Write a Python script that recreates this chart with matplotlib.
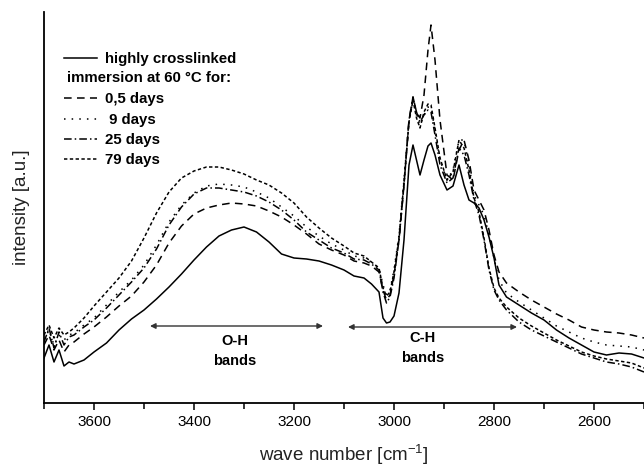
import numpy as np
import matplotlib.pyplot as plt
from matplotlib.lines import Line2D

plt.rcParams['font.family'] = ['Liberation Sans', 'DejaVu Sans']

# wave numbers [cm-1] shared by all spectra
wavenumber = [3700, 3690, 3680, 3670, 3660, 3650, 3640, 3620, 3600, 3575,
              3550, 3525, 3500, 3475, 3450, 3425, 3400, 3375, 3350, 3325,
              3300, 3275, 3250, 3225, 3200, 3175, 3150, 3125, 3100, 3080,
              3060, 3045, 3030, 3022, 3015, 3008, 3000, 2990, 2980, 2970,
              2962, 2955, 2948, 2940, 2932, 2926, 2918, 2908, 2894, 2882,
              2870, 2860, 2850, 2840, 2830, 2820, 2810, 2800, 2790, 2775,
              2750, 2725, 2700, 2675, 2650, 2625, 2600, 2575, 2550, 2525,
              2500]

# intensities [a.u.]
crosslinked = [45, 58, 41, 53, 37, 41, 39, 43, 51, 60,
               73, 84, 93, 104, 116, 129, 143, 156, 167, 173,
               176, 171, 161, 149, 145, 144, 142, 138, 133, 127,
               125, 119, 111, 85, 80, 81, 87, 110, 163, 238,
               258, 243, 228, 243, 257, 260, 248, 228, 213, 217,
               238, 218, 203, 200, 195, 183, 166, 145, 118, 106,
               98, 90, 83, 73, 65, 58, 51, 48, 50, 49,
               45]

days_0_5 = [58, 68, 53, 63, 51, 58, 61, 69, 76, 86,
            97, 107, 121, 138, 160, 177, 189, 195, 198, 200,
            199, 197, 192, 186, 178, 169, 159, 153, 148, 142,
            140, 137, 131, 113, 103, 108, 128, 163, 218, 283,
            306, 291, 285, 308, 353, 378, 343, 283, 228, 223,
            253, 263, 243, 213, 203, 193, 173, 148, 131, 120,
            111, 103, 96, 89, 83, 76, 73, 71, 70, 68,
            65]

days_9 = [63, 73, 58, 68, 63, 68, 70, 78, 85, 98,
          111, 123, 138, 158, 181, 198, 210, 217, 219, 218,
          216, 211, 205, 196, 187, 176, 167, 159, 153, 147,
          145, 141, 135, 118, 108, 113, 133, 168, 223, 283,
          303, 288, 278, 288, 296, 295, 273, 243, 223, 233,
          263, 263, 238, 208, 198, 188, 168, 145, 123, 110,
          101, 93, 85, 77, 71, 65, 61, 58, 57, 56,
          53]

days_25 = [61, 75, 55, 71, 58, 66, 68, 76, 83, 95,
           108, 121, 135, 154, 178, 196, 209, 215, 215, 213,
           211, 207, 201, 193, 183, 171, 163, 155, 150, 144,
           143, 139, 133, 111, 100, 106, 125, 163, 218, 283,
           306, 291, 281, 288, 293, 291, 268, 238, 220, 225,
           255, 248, 228, 203, 188, 163, 133, 113, 103, 93,
           81, 73, 67, 61, 55, 49, 45, 41, 39, 36,
           31]

days_79 = [68, 78, 65, 75, 68, 71, 75, 85, 97, 111,
           125, 142, 165, 190, 211, 225, 232, 236, 236, 233,
           229, 223, 218, 210, 200, 186, 175, 165, 157, 150,
           147, 141, 135, 115, 107, 111, 131, 165, 221, 281,
           303, 285, 275, 291, 299, 298, 275, 245, 223, 231,
           263, 255, 233, 205, 191, 165, 135, 115, 105, 96,
           85, 77, 70, 63, 57, 51, 47, 44, 42, 40,
           35]

labels = ['highly crosslinked', '0,5 days', ' 9 days', '25 days', '79 days']

xticks = [3600, 3400, 3200, 3000, 2800, 2600]

fig = plt.figure(figsize=(6.44, 4.72), dpi=100)
ax = fig.add_axes([44/644, 69/472, 600/644, 391/472])

lw = 1.1
l1, = ax.plot(wavenumber, crosslinked, color='black', lw=lw, ls='-')
l2, = ax.plot(wavenumber, days_0_5, color='black', lw=lw, ls=(0, (5, 3.5)))
l3, = ax.plot(wavenumber, days_9, color='black', lw=lw, ls=(0, (1, 4)))
l4, = ax.plot(wavenumber, days_25, color='black', lw=lw, ls=(0, (5, 2, 1, 2)))
l5, = ax.plot(wavenumber, days_79, color='black', lw=lw, ls=(0, (2.2, 1.6)))

ax.set_xlim(3700, 2500)
ax.set_ylim(0, 391)
ax.set_xticks(xticks)
ax.set_xticks(np.arange(3700, 2499, -100), minor=True)
ax.set_yticks([])
ax.tick_params(axis='x', which='both', direction='out', length=5, width=1.1,
               labelsize=11, colors='black', pad=4)
ax.tick_params(axis='x', which='minor', length=4)
for s in ['top', 'right']:
    ax.spines[s].set_visible(False)
for s in ['left', 'bottom']:
    ax.spines[s].set_linewidth(1.3)

ax.set_xlabel('wave number [cm$^{\\mathregular{-1}}$]', fontsize=13.5, labelpad=9, color='#222222')
ax.set_ylabel('intensity [a.u.]', fontsize=13.5, labelpad=10, color='#222222')

# legend with a blank row for the "immersion" line
blank = Line2D([], [], color='none')
leg = ax.legend([l1, blank, l2, l3, l4, l5],
                [labels[0], ' ', labels[1], labels[2], labels[3], labels[4]],
                loc='upper left', bbox_to_anchor=(0.033, 0.898), frameon=False,
                borderpad=0, borderaxespad=0, handlelength=2.2, handletextpad=0.55,
                labelspacing=0.42, prop={'weight': 'bold', 'size': 10.8})
ax.text(0.038, 0.830, 'immersion at 60 °C for:', transform=ax.transAxes,
        fontsize=10.8, fontweight='bold', va='center', ha='left')

# band markers
ax.annotate('', xy=(3488, 77), xytext=(3142, 77),
            arrowprops=dict(arrowstyle='<|-|>', lw=1.0, color='#333333', mutation_scale=8,
                            shrinkA=0, shrinkB=0))
ax.annotate('', xy=(3092, 76), xytext=(2754, 76),
            arrowprops=dict(arrowstyle='<|-|>', lw=1.0, color='#333333', mutation_scale=8,
                            shrinkA=0, shrinkB=0))
ax.text(3318, 52, 'O-H\nbands', ha='center', va='center', fontsize=10.5,
        fontweight='bold', linespacing=1.5)
ax.text(2942, 55, 'C-H\nbands', ha='center', va='center', fontsize=10.5,
        fontweight='bold', linespacing=1.5)

fig.savefig('out.png', dpi=100)
